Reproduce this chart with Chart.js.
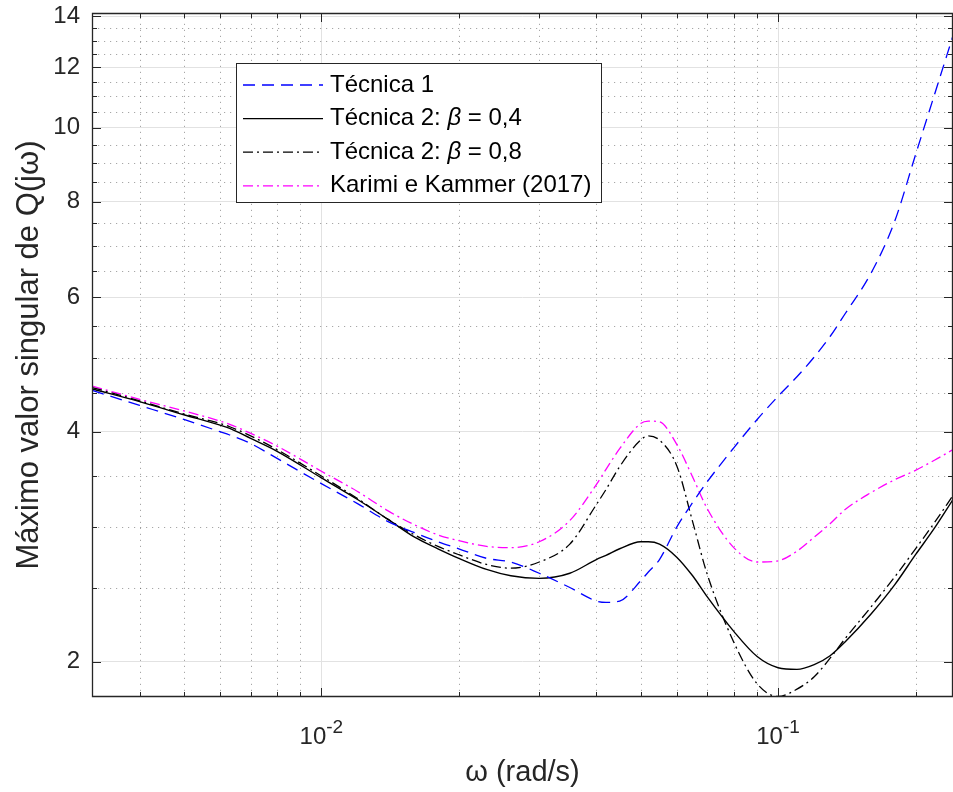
<!DOCTYPE html>
<html>
<head>
<meta charset="utf-8">
<script src="https://cdn.jsdelivr.net/npm/chart.js@4.4.1/dist/chart.umd.min.js"></script>
<style>
  body { margin: 0; background: #fff; }
</style>
</head>
<body>
<canvas id="sv" width="953" height="792"></canvas>
<script>
// frequencias (rad/s) e maximo valor singular
const omega = [0.00315, 0.004, 0.005, 0.006, 0.0063, 0.007, 0.008, 0.01, 0.012, 0.014,
  0.016, 0.018, 0.02, 0.023, 0.026, 0.03, 0.035, 0.04, 0.042, 0.045,
  0.05, 0.052, 0.055, 0.06, 0.065, 0.07, 0.08, 0.09, 0.1, 0.11,
  0.12, 0.13, 0.14, 0.16, 0.18, 0.2, 0.22, 0.2416];

const tecnica1 = [4.53, 4.33, 4.15, 4.00, 3.96, 3.86, 3.69, 3.42, 3.22, 3.05,
  2.95, 2.87, 2.81, 2.73, 2.70, 2.61, 2.50, 2.40, 2.39, 2.40,
  2.55, 2.62, 2.72, 3.00, 3.23, 3.44, 3.81, 4.15, 4.45, 4.72,
  5.01, 5.33, 5.70, 6.46, 7.54, 9.22, 11.05, 13.2];

const tecnica2b04 = [4.55, 4.38, 4.21, 4.08, 4.04, 3.92, 3.77, 3.48, 3.26, 3.07,
  2.91, 2.81, 2.73, 2.64, 2.59, 2.57, 2.61, 2.72, 2.755, 2.81,
  2.87, 2.87, 2.85, 2.74, 2.59, 2.43, 2.19, 2.03, 1.963, 1.953,
  1.981, 2.035, 2.12, 2.31, 2.52, 2.76, 2.99, 3.26];

const tecnica2b08 = [4.57, 4.39, 4.22, 4.10, 4.06, 3.95, 3.79, 3.50, 3.27, 3.07,
  2.93, 2.83, 2.76, 2.68, 2.65, 2.70, 2.85, 3.21, 3.36, 3.60,
  3.90, 3.95, 3.90, 3.61, 3.05, 2.60, 2.12, 1.87, 1.80, 1.84,
  1.91, 2.02, 2.14, 2.36, 2.58, 2.81, 3.04, 3.30];

const karimi = [4.59, 4.41, 4.26, 4.13, 4.09, 3.98, 3.83, 3.55, 3.34, 3.15,
  3.02, 2.93, 2.88, 2.83, 2.82, 2.87, 3.06, 3.41, 3.57, 3.80,
  4.10, 4.13, 4.12, 3.85, 3.49, 3.17, 2.82, 2.70, 2.71, 2.79,
  2.91, 3.03, 3.16, 3.33, 3.46, 3.56, 3.67, 3.79];

const yTicks = [2, 4, 6, 8, 10, 12, 14];
const yMinor = [2.5, 3, 3.5, 4.5, 5, 5.5, 6.5, 7, 7.5, 8.5, 9, 9.5, 10.5, 11, 11.5, 12.5, 13, 13.5];
const xTicks = [0.01, 0.1];
const xTickExp = ['-2', '-1'];
const xMinor = [0.004, 0.005, 0.006, 0.007, 0.008, 0.009, 0.02, 0.03, 0.04, 0.05, 0.06, 0.07, 0.08, 0.09, 0.2];

const FONT = "'Liberation Sans', Arial, sans-serif";
const AXIS = '#262626';

function pts(arr) {
  return omega.map((w, i) => ({ x: w, y: arr[i] }));
}

// grade menor pontilhada, caixa com marcas internas, rotulos 10^n e legenda
const matlabAxes = {
  id: 'matlabAxes',
  beforeDatasetsDraw(chart) {
    const { ctx, chartArea: a, scales: { x, y } } = chart;
    ctx.save();
    ctx.strokeStyle = 'rgba(60,60,60,0.45)';
    ctx.lineWidth = 1;
    ctx.setLineDash([1.2, 4.8]);
    xMinor.forEach(v => {
      const px = Math.round(x.getPixelForValue(v)) + 0.5;
      ctx.beginPath(); ctx.moveTo(px, a.bottom); ctx.lineTo(px, a.top); ctx.stroke();
    });
    yMinor.forEach(v => {
      const py = Math.round(y.getPixelForValue(v)) + 0.5;
      ctx.beginPath(); ctx.moveTo(a.left, py); ctx.lineTo(a.right, py); ctx.stroke();
    });
    ctx.restore();
  },
  afterDatasetsDraw(chart) {
    const { ctx, chartArea: a, scales: { x, y } } = chart;
    ctx.save();
    ctx.strokeStyle = AXIS;
    ctx.lineWidth = 1.3;
    ctx.beginPath();
    ctx.moveTo(a.left + 0.5, a.top + 0.5);
    ctx.lineTo(a.right - 0.5, a.top + 0.5);
    ctx.lineTo(a.right - 0.5, a.bottom - 0.5);
    ctx.lineTo(a.left + 0.5, a.bottom - 0.5);
    ctx.closePath();
    ctx.stroke();

    ctx.lineWidth = 1;
    const tickX = (v, len) => {
      const px = Math.round(x.getPixelForValue(v)) + 0.5;
      ctx.beginPath();
      ctx.moveTo(px, a.bottom); ctx.lineTo(px, a.bottom - len);
      ctx.moveTo(px, a.top); ctx.lineTo(px, a.top + len);
      ctx.stroke();
    };
    const tickY = (v, len) => {
      const py = Math.round(y.getPixelForValue(v)) + 0.5;
      ctx.beginPath();
      ctx.moveTo(a.left, py); ctx.lineTo(a.left + len, py);
      ctx.moveTo(a.right, py); ctx.lineTo(a.right - len, py);
      ctx.stroke();
    };
    xTicks.forEach(v => tickX(v, 9));
    xMinor.forEach(v => tickX(v, 5));
    yTicks.forEach(v => tickY(v, 9));
    yMinor.forEach(v => tickY(v, 5));

    // rotulos 10^-2, 10^-1
    ctx.fillStyle = AXIS;
    ctx.textBaseline = 'alphabetic';
    ctx.textAlign = 'left';
    xTicks.forEach((v, i) => {
      const px = x.getPixelForValue(v);
      ctx.font = '24px ' + FONT;
      const wb = ctx.measureText('10').width;
      ctx.font = '19px ' + FONT;
      const we = ctx.measureText(xTickExp[i]).width;
      const x0 = px - (wb + we) / 2;
      ctx.font = '24px ' + FONT;
      ctx.fillText('10', x0, 744);
      ctx.font = '19px ' + FONT;
      ctx.fillText(xTickExp[i], x0 + wb, 733);
    });
    ctx.restore();
  },
  afterDraw(chart) {
    const { ctx } = chart;
    const box = { l: 236.5, t: 63.5, w: 365, h: 139 };
    ctx.save();
    ctx.fillStyle = '#fff';
    ctx.fillRect(box.l, box.t, box.w, box.h);
    ctx.strokeStyle = AXIS;
    ctx.lineWidth = 1;
    ctx.strokeRect(box.l, box.t, box.w, box.h);
    chart.data.datasets.forEach((ds, i) => {
      const yy = 85 + i * 33.6;
      ctx.strokeStyle = ds.borderColor;
      ctx.lineWidth = ds.borderWidth;
      ctx.setLineDash(ds.borderDash || []);
      ctx.beginPath(); ctx.moveTo(243, yy); ctx.lineTo(323, yy); ctx.stroke();
      ctx.setLineDash([]);
      ctx.fillStyle = '#000';
      ctx.textBaseline = 'middle';
      ctx.textAlign = 'left';
      const parts = ds.label.split('β');
      let tx = 330;
      ctx.font = '24px ' + FONT;
      ctx.fillText(parts[0], tx, yy);
      tx += ctx.measureText(parts[0]).width;
      if (parts.length > 1) {
        ctx.font = 'italic 24px ' + FONT;
        ctx.fillText('β', tx, yy);
        tx += ctx.measureText('β').width;
        ctx.font = '24px ' + FONT;
        ctx.fillText(parts[1], tx, yy);
      }
    });
    ctx.restore();
  }
};

const config = {
  type: 'line',
  data: {
    datasets: [
      { label: 'Técnica 1', data: pts(tecnica1), borderColor: '#0000ff', borderWidth: 1.3, borderDash: [12, 7] },
      { label: 'Técnica 2: β = 0,4', data: pts(tecnica2b04), borderColor: '#000000', borderWidth: 1.4 },
      { label: 'Técnica 2: β = 0,8', data: pts(tecnica2b08), borderColor: '#000000', borderWidth: 1.3, borderDash: [10, 4, 2, 4] },
      { label: 'Karimi e Kammer (2017)', data: pts(karimi), borderColor: '#ff00ff', borderWidth: 1.3, borderDash: [10, 4, 2, 4] }
    ]
  },
  options: {
    responsive: false,
    animation: false,
    layout: { padding: { top: 13, right: 0, left: 0, bottom: 0 } },
    elements: {
      point: { radius: 0 },
      line: { cubicInterpolationMode: 'monotone', fill: false }
    },
    plugins: { legend: { display: false }, tooltip: { enabled: false } },
    scales: {
      x: {
        type: 'logarithmic',
        min: 0.003146,
        max: 0.2416,
        afterBuildTicks: s => { s.ticks = xTicks.map(v => ({ value: v })); },
        afterFit: s => { s.height = 95; s.paddingLeft = 0; s.paddingRight = 0; },
        grid: { color: '#e2e2e2', drawTicks: false },
        border: { display: false },
        ticks: { display: false },
        title: {
          display: true,
          text: 'ω (rad/s)',
          color: AXIS,
          font: { family: FONT, size: 29 },
          padding: { top: 0, bottom: 2 }
        }
      },
      y: {
        type: 'logarithmic',
        min: 1.797,
        max: 14.14,
        afterBuildTicks: s => { s.ticks = yTicks.map(v => ({ value: v })); },
        afterFit: s => { s.width = 92; s.paddingTop = 0; s.paddingBottom = 0; },
        grid: { color: '#e2e2e2', drawTicks: false },
        border: { display: false },
        ticks: {
          padding: 12,
          color: AXIS,
          font: { family: FONT, size: 24 },
          callback: v => String(v)
        },
        title: {
          display: true,
          text: 'Máximo valor singular de Q(jω)',
          color: AXIS,
          font: { family: FONT, size: 31 },
          padding: { top: 11, bottom: 0 }
        }
      }
    }
  },
  plugins: [matlabAxes]
};

new Chart(document.getElementById('sv'), config);
</script>
</body>
</html>
